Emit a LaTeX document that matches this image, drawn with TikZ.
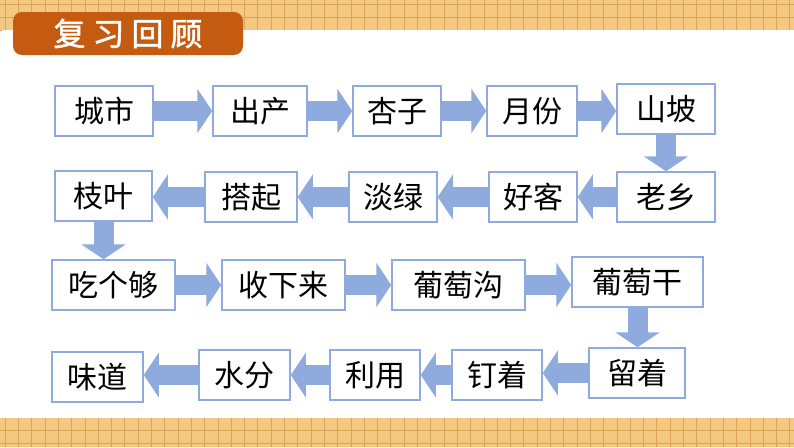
\documentclass[tikz,border=0pt]{standalone}
\usepackage{fontspec}
\newfontfamily\cjk{Noto Sans CJK SC}
\newfontfamily\cjkb{Noto Sans CJK SC}[FakeBold=1.5]
\usetikzlibrary{arrows.meta}
\definecolor{boxc}{HTML}{8FAADC}
\definecolor{arrc}{HTML}{8FAADC}
\definecolor{gridfill}{HTML}{F4C880}
\definecolor{gridline}{HTML}{D9A458}
\definecolor{titlec}{HTML}{C55A11}
\pgfdeclarelayer{back}
\pgfdeclarelayer{bg}
\pgfsetlayers{back,bg,main}
\tikzset{
  stepbox/.style={draw=boxc, line width=1.5pt, fill=white, minimum height=50pt, inner sep=0pt,
    text=black, font=\cjk\fontsize{30}{32}\selectfont},
  blk/.style={draw=arrc, line width=20pt, -{Triangle[length=15pt,width=44pt]}},
}
\begin{document}
\begin{tikzpicture}[x=1pt,y=-1pt]
\useasboundingbox (0,0) rectangle (794,447);
\begin{pgfonlayer}{back}
% background strips with grid
\fill[gridfill] (0,0) rectangle (794,30);
\fill[gridfill] (0,418) rectangle (794,447);
\begin{scope}
\clip (0,0) rectangle (794,30);
\foreach \i in {0,...,60} {\draw[gridline, line width=0.6pt] (\i*13.3+5,0) -- (\i*13.3+5,30);}
\foreach \j in {0,...,2} {\draw[gridline, line width=0.6pt] (0,\j*13.3+4) -- (794,\j*13.3+4);}
\end{scope}
\begin{scope}
\clip (0,418) rectangle (794,447);
\foreach \i in {0,...,60} {\draw[gridline, line width=0.6pt] (\i*13.3+5,418) -- (\i*13.3+5,447);}
\foreach \j in {0,...,2} {\draw[gridline, line width=0.6pt] (0,\j*13.3+430) -- (794,\j*13.3+430);}
\end{scope}
\fill[white] (2,30) rectangle (794,418);
\end{pgfonlayer}
% title
\node[fill=titlec, rounded corners=9pt, minimum width=230pt, minimum height=43pt, inner sep=0pt,
  text=white, font=\cjkb\fontsize{32}{34}\selectfont] (title) at (128,33.5)
  {复\hspace{7pt}习\hspace{7pt}回\hspace{7pt}顾};
% row 1
\node[stepbox, minimum width=98pt] (a1) at (104,111) {城市};
\node[stepbox, minimum width=94pt] (a2) at (260,111) {出产};
\node[stepbox, minimum width=88pt] (a3) at (397,111) {杏子};
\node[stepbox, minimum width=90pt] (a4) at (532,111) {月份};
\node[stepbox, minimum width=98pt] (a5) at (666,109) {山坡};
% row 2
\node[stepbox, minimum width=98pt] (b1) at (666,197) {老乡};
\node[stepbox, minimum width=88pt] (b2) at (533,197) {好客};
\node[stepbox, minimum width=88pt] (b3) at (393,197) {淡绿};
\node[stepbox, minimum width=92pt] (b4) at (251,197) {搭起};
\node[stepbox, minimum width=97pt] (b5) at (103.5,196) {枝叶};
% row 3
\node[stepbox, minimum width=123pt] (c1) at (113.5,285) {吃个够};
\node[stepbox, minimum width=123pt] (c2) at (283.5,285) {收下来};
\node[stepbox, minimum width=133pt] (c3) at (458.5,285) {葡萄沟};
\node[stepbox, minimum width=131pt] (c4) at (637.5,282) {葡萄干};
% row 4
\node[stepbox, minimum width=96pt] (d1) at (637,373) {留着};
\node[stepbox, minimum width=90pt] (d2) at (497,375) {钉着};
\node[stepbox, minimum width=90pt] (d3) at (375,375) {利用};
\node[stepbox, minimum width=91pt] (d4) at (244.5,375) {水分};
\node[stepbox, minimum width=91pt] (d5) at (97.5,377) {味道};
% arrows
\begin{pgfonlayer}{bg}
\draw[blk] (a1.east) -- (a1.east -| a2.west);
\draw[blk] (a2.east) -- (a2.east -| a3.west);
\draw[blk] (a3.east) -- (a3.east -| a4.west);
\draw[blk] (a4.east) -- (a4.east -| a5.west);
\draw[blk] (a5.south) -- (b1.north);
\draw[blk] (b1.west) -- (b1.west -| b2.east);
\draw[blk] (b2.west) -- (b2.west -| b3.east);
\draw[blk] (b3.west) -- (b3.west -| b4.east);
\draw[blk] (b4.west) -- (b4.west -| b5.east);
\draw[blk] (b5.south) -- (b5.south |- c1.north);
\draw[blk] (c1.east) -- (c1.east -| c2.west);
\draw[blk] (c2.east) -- (c2.east -| c3.west);
\draw[blk] (c3.east) -- (c3.east -| c4.west);
\draw[blk] (c4.south) -- (c4.south |- d1.north);
\draw[blk] (d1.west) -- (d1.west -| d2.east);
\draw[blk] (d2.west) -- (d2.west -| d3.east);
\draw[blk] (d3.west) -- (d3.west -| d4.east);
\draw[blk] (d4.west) -- (d4.west -| d5.east);
\end{pgfonlayer}
\end{tikzpicture}
\end{document}
